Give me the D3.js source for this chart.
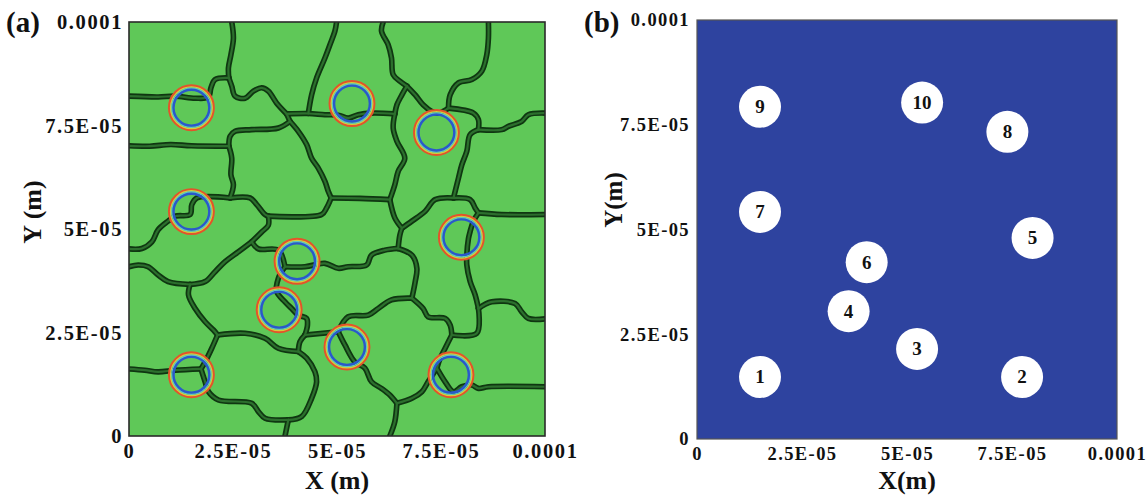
<!DOCTYPE html>
<html>
<head>
<meta charset="utf-8">
<script src="https://cdn.jsdelivr.net/npm/d3@7"></script>
<style>
  body { margin: 0; background: #fff; }
  svg text { font-family: "Liberation Serif", "Times New Roman", Times, serif; font-weight: bold; fill: #111; }
</style>
</head>
<body>
<svg id="chart" width="1146" height="497"></svg>
<script>
// positions are in micrometres (1 um = 1E-06 m), axes run 0..100 um
var seedIds = [1, 2, 3, 4, 5, 6, 7, 8, 9, 10];
var seedX = [15.0, 77.4, 52.4, 36.1, 79.9, 40.4, 15.0, 73.9, 15.0, 53.6];
var seedY = [14.8, 14.8, 21.5, 30.5, 48.0, 42.2, 54.2, 73.3, 79.3, 80.3];
var seedRadius = 5.0;
var ringRadii = [5.35, 5.0, 4.7, 4.3];
var ringColors = ['#e4532a', '#d6cc3c', '#5ec6c4', '#2a58cc'];
var ringWidths = [2.4, 1.4, 1.4, 2.4];
var tickValues = [0, 25, 50, 75, 100];
var tickLabels = ['0', '2.5E-05', '5E-05', '7.5E-05', '0.0001'];

// grain boundaries, [x, y] in um
var grainBoundaries = [
  [[24.7,100],[25.1,96.1],[24.5,92.1],[23.9,88.9],[24.0,86.5]],
  [[24.0,86.5],[20.7,86.1],[19.7,84.1],[19.1,81.9],[15.9,81.6],[11.1,82.1],[7,81.9],[0,82.1]],
  [[24.0,86.5],[24.7,84.5],[25.5,82.1],[27.9,81.6],[29.9,83.3],[31.9,84.1],[33.5,83.3],[35.5,80.4],[37.9,77.8]],
  [[37.9,77.8],[43.1,77.9],[47.1,77.6],[50.3,77.5],[52.7,76.8],[55.1,77.6],[58.3,78.0],[63.9,77.8]],
  [[49.9,100],[49.5,97.8],[48.3,94.5],[47.1,91.3],[45.1,86.5],[43.9,82.4],[43.1,77.9]],
  [[37.9,77.8],[38.7,76.0]],
  [[38.7,76.0],[35.9,74.4],[29.5,74.0],[25.5,73.6],[24.3,72.4],[24.0,70.0]],
  [[24.0,70.0],[15,70.1],[10,70.4],[5,70.0],[0,70.1]],
  [[24.0,70.0],[24.7,67.1],[24.5,63.1],[25.1,60.7],[24.3,57.5]],
  [[38.7,76.0],[40.7,73.6],[42.7,70.4],[43.9,67.1],[45.5,64.7],[47.1,61.5],[47.9,59.1],[48.6,57.5]],
  [[24.3,57.5],[29.1,57.5],[30.7,55.9],[32.7,53.5],[33.5,53.1]],
  [[33.5,53.1],[46.3,53.5],[47.5,55.1],[48.6,57.5]],
  [[24.3,57.5],[16.3,57.5],[15.1,55.9],[14.7,53.5],[11.1,53.1],[9.4,51.9],[7.0,49.8],[5.5,46.9],[3.1,45.3],[0,45.2]],
  [[48.6,57.5],[55.5,57.4],[62.7,57.1]],
  [[63.9,77.8],[63.5,74.4],[64.4,71.2],[66.3,67.1],[64.7,63.9],[63.9,60.7],[62.7,57.1]],
  [[61.1,100],[60.7,97.8],[62.3,94.5],[63.1,91.3],[63.5,87.3],[65.1,85.7],[66.8,84.5]],
  [[66.8,84.5],[65.6,82.4],[64.4,80.0],[63.9,77.8]],
  [[66.8,84.5],[68.8,82.4],[70.7,80.0],[72.8,78.4],[74.4,78.0],[76.8,79.2]],
  [[86.4,100],[86.4,96.1],[86.0,92.1],[84.8,88.1],[82.4,86.1],[79.2,85.3],[77.2,82.4],[76.8,79.2]],
  [[76.8,79.2],[82.8,78.0],[84.0,76.4],[84.0,74.0]],
  [[84.0,74.0],[89.6,74.0],[91.2,74.8],[94.4,76.0],[96.0,77.6],[100,78.0]],
  [[84.0,74.0],[82.0,72.8],[81.2,68.8],[80.0,65.5],[79.2,62.3],[78.4,59.1],[78.0,57.5]],
  [[62.7,57.1],[63.9,52.7],[65.6,50.2]],
  [[65.6,50.2],[68.0,51.9],[71.2,54.3],[73.6,57.1],[78.0,57.5]],
  [[78.0,57.5],[82.0,57.1],[83.2,55.1],[84.0,53.9]],
  [[84.0,53.9],[89.6,53.5],[100,53.5]],
  [[84.0,53.9],[82.8,51.9],[82.0,49.4],[81.6,47.7],[81.2,43.7],[81.2,41.3],[82.0,37.3],[83.2,34.1],[84.0,30.8]],
  [[65.6,50.2],[65.1,48.5],[64.7,45.3]],
  [[33.5,53.1],[33.5,50.9],[31.9,49.3],[29.5,46.9]],
  [[0,40.9],[2.2,41.3],[4.6,40.9],[7.0,38.9],[9.4,37.3],[14.7,36.6]],
  [[14.7,36.6],[18.3,37.3],[20.7,39.7],[23.1,42.1],[26.3,44.5],[29.5,46.9]],
  [[29.5,46.9],[31.1,45.2],[35.9,44.9],[37.5,40.9]],
  [[37.5,40.9],[42.3,40.9],[47.1,41.7],[50.3,40.5],[52.7,40.9],[57.1,41.3],[58.3,43.7],[61.5,44.9],[64.7,45.3]],
  [[37.5,40.9],[35.9,38.1],[35.5,34.9],[37.5,32.4],[39.1,30.8],[40.7,29.2],[42.7,28.4],[42.9,26.8],[42.3,24.4]],
  [[42.3,24.4],[50.3,25.2]],
  [[42.3,24.4],[41.1,22.8],[40.7,20.4]],
  [[14.7,36.6],[14.3,34.1],[15.9,30.8],[18.3,27.6],[20.3,25.6],[21.3,24.4]],
  [[21.3,24.4],[27.9,24.8],[32.7,23.6],[35.9,21.2],[40.7,20.4]],
  [[21.3,24.4],[19.9,21.2],[18.3,17.9],[17.3,16.2]],
  [[17.3,16.2],[11.1,15.9],[7.0,15.5],[3.8,15.9],[0,16.2]],
  [[17.3,16.2],[18.3,13.1],[19.1,10.7],[21.5,8.7],[29.5,7.9],[31.1,5.9],[32.7,4.3],[38.3,3.9]],
  [[38.3,3.9],[37.5,0]],
  [[40.7,20.4],[42.7,18.8],[44.7,15.5],[45.1,13.1],[43.9,9.1],[41.5,4.7],[38.3,3.9]],
  [[64.7,45.3],[68.0,43.7],[69.2,40.5],[68.8,37.3],[68.0,33.3]],
  [[68.0,33.3],[63.1,32.9],[59.9,30.8],[57.5,29.2],[52.7,28.8],[50.3,25.2]],
  [[50.3,25.2],[51.9,22.0],[54.3,17.9],[56.7,16.4],[58.3,13.1],[60.7,11.5],[62.7,9.9],[64.4,7.9]],
  [[64.4,7.9],[63.9,3.5],[62.7,0]],
  [[68.0,33.3],[70.7,30.8],[71.9,28.8],[76.0,28.4],[77.2,26.8],[77.6,24.4]],
  [[77.6,24.4],[83.6,24.8],[84.0,30.8]],
  [[84.0,30.8],[87.2,32.4],[92.8,32.0],[94.4,30.0],[96.0,28.4],[100,28.3]],
  [[77.6,24.4],[76.0,21.2],[74.8,18.8],[74.0,16.4]],
  [[74.0,16.4],[76.0,13.1],[78.0,10.7],[80.0,11.9],[82.4,12.3],[84.0,11.5],[86.4,11.9],[100,11.9]],
  [[74.0,16.4],[71.9,13.1],[70.4,10.7],[68.0,9.1],[64.4,7.9]]
];

var FONT = '"Liberation Serif", "Times New Roman", Times, serif';
var svg = d3.select('#chart');
var seeds = seedIds.map(function (id, i) { return { id: id, x: seedX[i], y: seedY[i] }; });

function makePanel(left, top, w, h, o) {
  var g = svg.append('g').attr('transform', 'translate(' + left + ',' + top + ')');
  var x = d3.scaleLinear().domain([0, 100]).range([0, w]);
  var y = d3.scaleLinear().domain([0, 100]).range([h, 0]);

  g.append('clipPath').attr('id', o.id + '-clip')
    .append('rect').attr('width', w).attr('height', h);

  g.append('rect')
    .attr('width', w).attr('height', h)
    .attr('fill', o.fill);

  var xa = g.append('g')
    .attr('transform', 'translate(0,' + h + ')')
    .call(d3.axisBottom(x).tickValues(tickValues)
      .tickFormat(function (d, i) { return tickLabels[i]; })
      .tickSize(0).tickPadding(o.xPad));
  var ya = g.append('g')
    .call(d3.axisLeft(y).tickValues(tickValues)
      .tickFormat(function (d, i) { return tickLabels[i]; })
      .tickSize(0).tickPadding(o.yPad));

  [xa, ya].forEach(function (a) {
    a.select('.domain').remove();
    a.attr('font-family', FONT).attr('font-size', o.tickFont);
    a.selectAll('text')
      .style('font-family', FONT)
      .style('font-weight', 'bold')
      .style('font-size', o.tickFont + 'px')
      .style('letter-spacing', o.spacing + 'px')
      .attr('fill', '#111');
  });

  return { g: g, x: x, y: y, w: w, h: h };
}

// ---- panel (a): grain structure with nuclei rings
var pa = makePanel(129, 22, 416, 414, {
  id: 'pa', fill: '#5fc858', xPad: 7, yPad: 6, tickFont: 20.5, spacing: 1.6
});

var line = d3.line()
  .x(function (d) { return pa.x(d[0]); })
  .y(function (d) { return pa.y(d[1]); })
  .curve(d3.curveCatmullRom.alpha(0.5));

var gb = pa.g.append('g').attr('clip-path', 'url(#pa-clip)');
gb.selectAll('path.outer')
  .data(grainBoundaries)
  .enter().append('path')
  .attr('class', 'outer')
  .attr('d', line)
  .attr('fill', 'none')
  .attr('stroke', '#0f3611')
  .attr('stroke-width', 5.6)
  .attr('stroke-linejoin', 'round')
  .attr('stroke-linecap', 'round');
gb.selectAll('path.inner')
  .data(grainBoundaries)
  .enter().append('path')
  .attr('class', 'inner')
  .attr('d', line)
  .attr('fill', 'none')
  .attr('stroke', '#2c6f2d')
  .attr('stroke-width', 2.2)
  .attr('stroke-linejoin', 'round')
  .attr('stroke-linecap', 'round');

var rings = pa.g.append('g');
seeds.forEach(function (s) {
  ringRadii.forEach(function (r, k) {
    rings.append('circle')
      .attr('cx', pa.x(s.x))
      .attr('cy', pa.y(s.y))
      .attr('r', pa.x(r) - pa.x(0))
      .attr('fill', 'none')
      .attr('stroke', ringColors[k])
      .attr('stroke-width', ringWidths[k]);
  });
});

pa.g.append('rect')
  .attr('width', pa.w).attr('height', pa.h)
  .attr('fill', 'none')
  .attr('stroke', '#2a2a2a')
  .attr('stroke-width', 1.6);

// ---- panel (b): numbered nuclei
var pb = makePanel(697, 20, 420, 419, {
  id: 'pb', fill: '#2e439f', xPad: 8, yPad: 7, tickFont: 18.5, spacing: 1.4
});

var nodes = pb.g.selectAll('g.seed')
  .data(seeds)
  .enter().append('g')
  .attr('class', 'seed')
  .attr('transform', function (d) { return 'translate(' + pb.x(d.x) + ',' + pb.y(d.y) + ')'; });

nodes.append('circle')
  .attr('r', pb.x(seedRadius) - pb.x(0))
  .attr('fill', '#ffffff');

nodes.append('text')
  .attr('text-anchor', 'middle')
  .attr('dy', '0.34em')
  .style('font-family', FONT)
  .style('font-size', '19px')
  .text(function (d) { return d.id; });

pb.g.append('rect')
  .attr('width', pb.w).attr('height', pb.h)
  .attr('fill', 'none')
  .attr('stroke', '#555')
  .attr('stroke-width', 1.2);

// ---- titles and panel labels
function label(txt, x, y, size, rot) {
  svg.append('text')
    .attr('transform', 'translate(' + x + ',' + y + ')' + (rot ? ' rotate(-90)' : ''))
    .attr('text-anchor', rot === undefined ? 'start' : 'middle')
    .style('font-family', FONT)
    .style('font-size', size + 'px')
    .text(txt);
}

label('(a)', 6, 32, 29);
label('(b)', 584, 32, 29);
label('X (m)', 337, 489, 26, 0);
label('Y (m)', 41, 212, 26, 1);
label('X(m)', 907, 489, 26, 0);
label('Y(m)', 622, 200, 25, 1);
</script>
</body>
</html>
